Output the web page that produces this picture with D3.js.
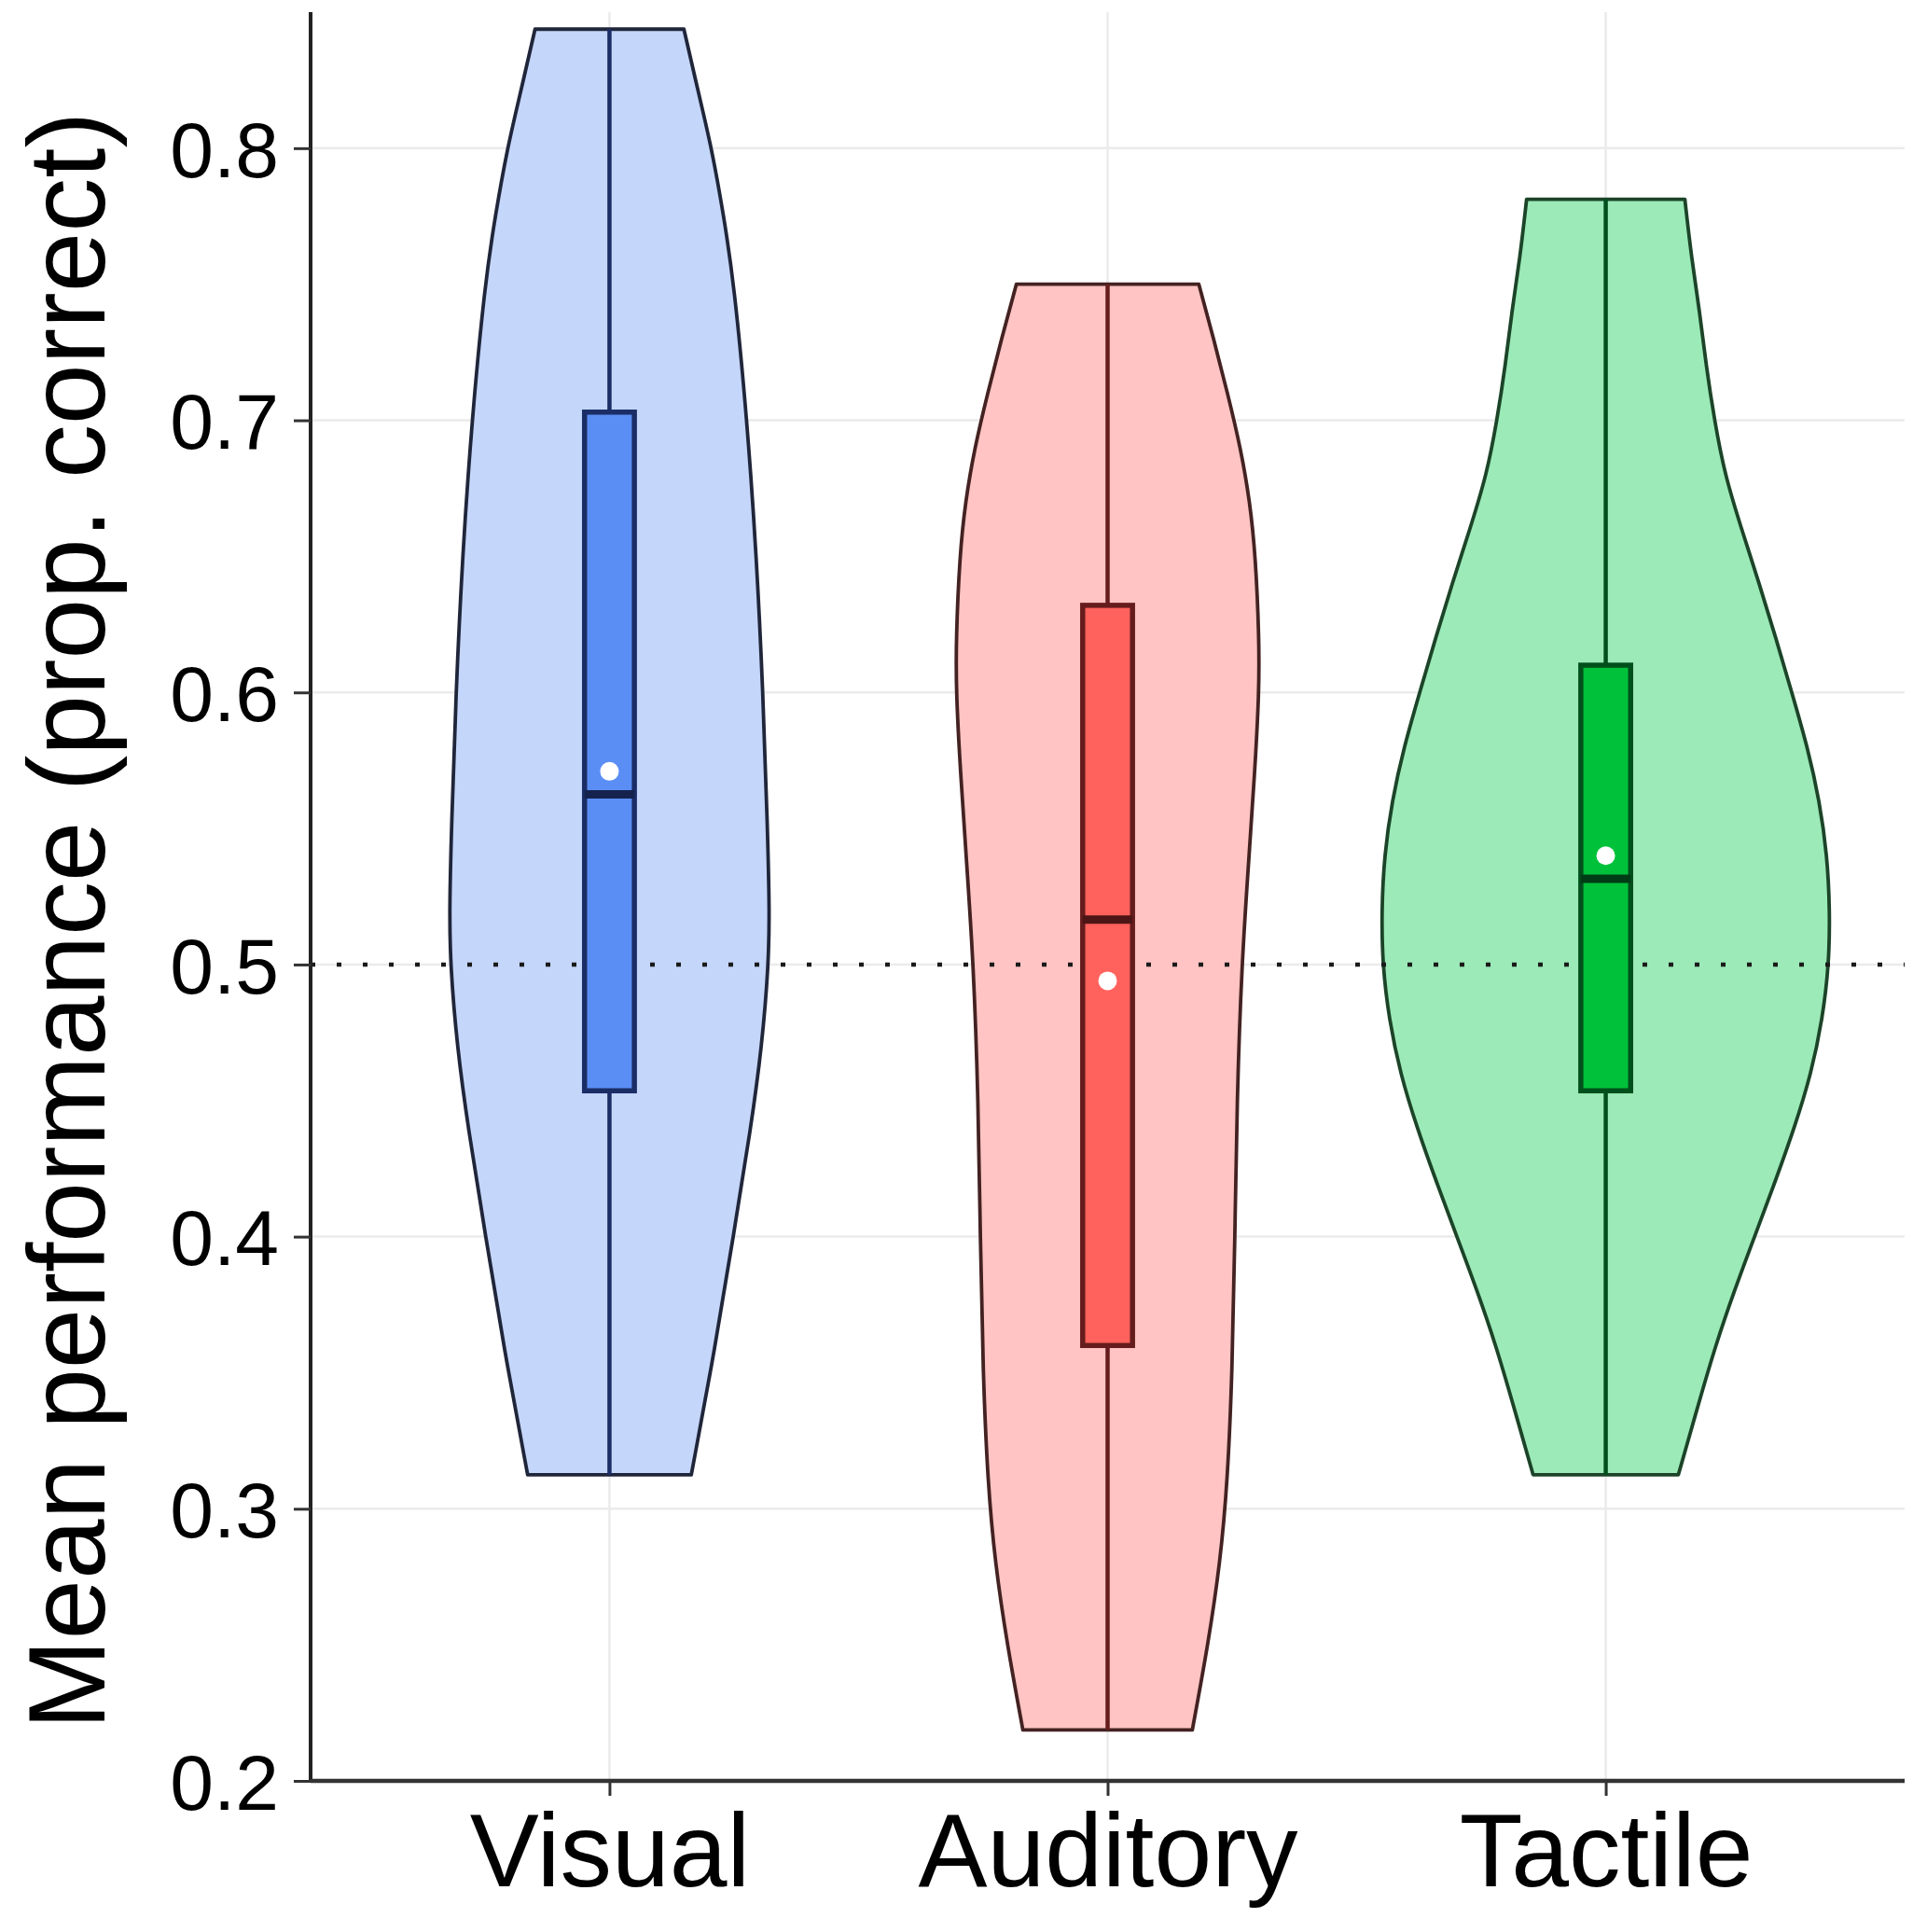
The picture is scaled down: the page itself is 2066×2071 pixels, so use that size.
<!DOCTYPE html>
<html>
<head>
<meta charset="utf-8">
<script src="https://cdn.jsdelivr.net/npm/d3@7"></script>
<style>
  html, body { margin: 0; padding: 0; background: #ffffff; }
  svg { display: block; }
  text { font-family: "Liberation Sans", Arial, Helvetica, sans-serif; fill: #000; }
</style>
</head>
<body>
<svg id="chart" width="2066" height="2071"></svg>
<script>
// ---------------- DATA ----------------
const categories = ["Visual", "Auditory", "Tactile"];
const yTicks = [0.2, 0.3, 0.4, 0.5, 0.6, 0.7, 0.8];
const chanceLevel = 0.5;

// violin profiles (performance value, relative density)
const visualY       = [0.84375, 0.82, 0.80, 0.775, 0.75, 0.70, 0.65, 0.60, 0.55, 0.52, 0.50, 0.47, 0.44, 0.40, 0.36, 0.3125];
const visualDensity = [0.332, 0.398, 0.456, 0.510, 0.556, 0.614, 0.656, 0.685, 0.705, 0.714, 0.710, 0.680, 0.631, 0.552, 0.473, 0.365];

const auditoryY       = [0.75, 0.73, 0.71, 0.69, 0.67, 0.65, 0.62, 0.60, 0.57, 0.54, 0.50, 0.45, 0.40, 0.35, 0.31, 0.28, 0.25, 0.21875];
const auditoryDensity = [0.407, 0.473, 0.535, 0.593, 0.635, 0.660, 0.676, 0.676, 0.656, 0.631, 0.598, 0.577, 0.568, 0.556, 0.535, 0.502, 0.448, 0.378];

const tactileY       = [0.78125, 0.76, 0.74, 0.72, 0.70, 0.68, 0.66, 0.64, 0.62, 0.60, 0.58, 0.56, 0.54, 0.52, 0.50, 0.48, 0.46, 0.44, 0.42, 0.40, 0.38, 0.36, 0.34, 0.3125];
const tactileDensity = [0.353, 0.382, 0.419, 0.448, 0.485, 0.531, 0.606, 0.685, 0.759, 0.830, 0.900, 0.954, 0.988, 1.000, 0.996, 0.967, 0.917, 0.842, 0.755, 0.664, 0.573, 0.490, 0.419, 0.324];

// box-plot summaries per category
const minVal = [0.3125, 0.21875, 0.3125];
const q1     = [0.4536, 0.360, 0.4536];
const median = [0.5625, 0.5165, 0.5315];
const q3     = [0.703, 0.632, 0.610];
const maxVal = [0.84375, 0.75, 0.78125];
const meanVal = [0.571, 0.494, 0.540];

// colours
const violinFill = ["#c4d6fa", "#ffc4c3", "#9beab8"];
const violinLine = ["#20263a", "#442222", "#1c4428"];
const boxFill    = ["#5b8ef5", "#ff625d", "#00c13a"];
const boxLine    = ["#1b2d66", "#661c1c", "#00501c"];

const axisTitle = "Mean performance (prop. correct)";

// ---------------- LAYOUT ----------------
const svg = d3.select("#chart");
const plotLeft = 333, plotRight = 2042, plotTop = 13, plotBottom = 1909;

const x = d3.scaleLinear().domain([0.4, 3.6]).range([plotLeft, plotRight]);
const y = d3.scaleLinear().domain([0.2, 0.85]).range([plotBottom, plotTop]);
const unit = x(2) - x(1);
const halfMax = 0.45;     // max violin half-width in category units
const boxHalf = 0.05;     // box half-width in category units

const violins = [
  { y: visualY, d: visualDensity },
  { y: auditoryY, d: auditoryDensity },
  { y: tactileY, d: tactileDensity }
];

// grid
const grid = svg.append("g");
grid.selectAll("line.h").data(yTicks.filter(t => t > 0.2)).enter().append("line")
  .attr("x1", plotLeft).attr("x2", plotRight)
  .attr("y1", d => y(d)).attr("y2", d => y(d))
  .attr("stroke", "#ebebeb").attr("stroke-width", 2.5);
grid.selectAll("line.v").data(categories).enter().append("line")
  .attr("x1", (d, i) => x(i + 1)).attr("x2", (d, i) => x(i + 1))
  .attr("y1", plotTop).attr("y2", plotBottom)
  .attr("stroke", "#ebebeb").attr("stroke-width", 2.5);

// violins
categories.forEach((cat, i) => {
  const cx = x(i + 1);
  const pts = violins[i].y.map((v, k) => ({ v, d: violins[i].d[k] }));
  const area = d3.area()
    .y(p => y(p.v))
    .x0(p => cx - p.d * halfMax * unit)
    .x1(p => cx + p.d * halfMax * unit)
    .curve(d3.curveBasis);
  svg.append("path")
    .attr("d", area(pts))
    .attr("fill", violinFill[i])
    .attr("stroke", violinLine[i])
    .attr("stroke-width", 3.8)
    .attr("stroke-linejoin", "round");
});

// chance line
svg.append("line")
  .attr("x1", plotLeft).attr("x2", plotRight)
  .attr("y1", y(chanceLevel)).attr("y2", y(chanceLevel))
  .attr("stroke", "#1a1a1a").attr("stroke-width", 4.5)
  .attr("stroke-dasharray", "5,23");

// whiskers, boxes, medians, means
categories.forEach((cat, i) => {
  const cx = x(i + 1);
  svg.append("line")
    .attr("x1", cx).attr("x2", cx)
    .attr("y1", y(maxVal[i])).attr("y2", y(minVal[i]))
    .attr("stroke", boxLine[i]).attr("stroke-width", 4.5);
  svg.append("rect")
    .attr("x", cx - boxHalf * unit)
    .attr("width", 2 * boxHalf * unit)
    .attr("y", y(q3[i]))
    .attr("height", y(q1[i]) - y(q3[i]))
    .attr("fill", boxFill[i])
    .attr("stroke", boxLine[i]).attr("stroke-width", 5.5);
  svg.append("line")
    .attr("x1", cx - boxHalf * unit).attr("x2", cx + boxHalf * unit)
    .attr("y1", y(median[i])).attr("y2", y(median[i]))
    .attr("stroke", d3.color(boxLine[i]).darker(0.8)).attr("stroke-width", 9);
  svg.append("circle")
    .attr("cx", cx).attr("cy", y(meanVal[i]))
    .attr("r", 10).attr("fill", "#ffffff");
});

// axes
const yAxis = svg.append("g").attr("transform", `translate(${plotLeft},0)`)
  .call(d3.axisLeft(y).tickValues(yTicks).tickSize(18).tickPadding(16).tickFormat(d3.format(".1f")));
yAxis.select(".domain").attr("stroke", "#222").attr("stroke-width", 4)
  .attr("d", `M0,${plotTop}V${plotBottom}`);
yAxis.selectAll(".tick line").attr("stroke", "#333").attr("stroke-width", 3);
yAxis.selectAll(".tick text")
  .attr("font-size", 84).attr("fill", "#111")
  .attr("dy", "0.36em");

const xAxis = svg.append("g").attr("transform", `translate(0,${plotBottom})`)
  .call(d3.axisBottom(x).tickValues([1, 2, 3]).tickSize(16).tickPadding(18)
    .tickFormat(d => categories[d - 1]));
xAxis.select(".domain").attr("stroke", "#333").attr("stroke-width", 4.5)
  .attr("d", `M${plotLeft},0H${plotRight}`);
xAxis.selectAll(".tick line").attr("stroke", "#333").attr("stroke-width", 3);
xAxis.selectAll(".tick text")
  .attr("font-size", 111).attr("fill", "#000")
  .attr("dy", "0.71em");

// y axis title
svg.append("text")
  .attr("transform", `translate(112,${(plotTop + plotBottom) / 2 + 26}) rotate(-90)`)
  .attr("text-anchor", "middle")
  .attr("font-size", 116)
  .text(axisTitle);
</script>
</body>
</html>
